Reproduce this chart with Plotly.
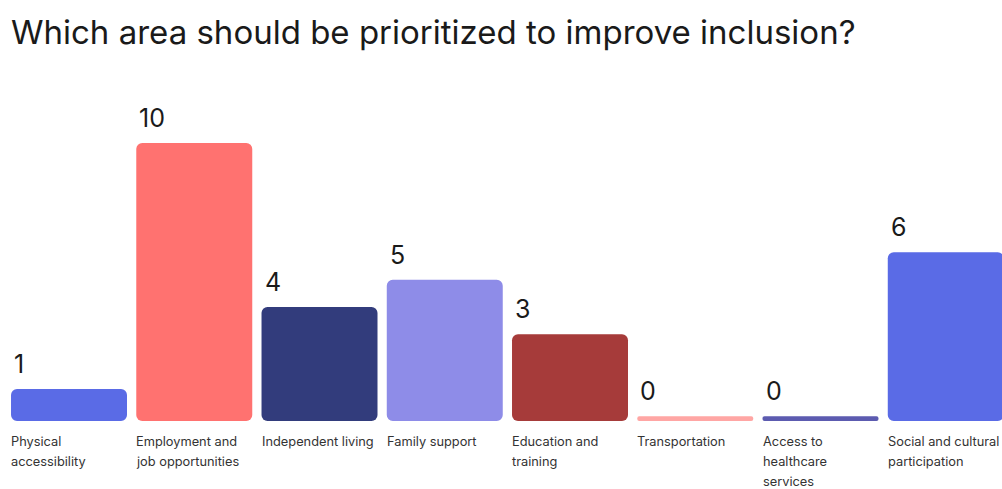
import plotly.graph_objects as go

categories = ["Physical<br>accessibility", "Employment and<br>job opportunities", "Independent living",
              "Family support", "Education and<br>training", "Transportation",
              "Access to<br>healthcare<br>services", "Social and cultural<br>participation"]
values = [1, 10, 4, 5, 3, 0, 0, 6]
colors = ["#5A6BE6", "#FF7270", "#323C7C", "#8E8CE8", "#A63B3A", "#FFA6A4", "#5C5BB0", "#5A6BE6"]

PAD = 0.172  # every bar starts slightly below zero, so zero values show as a thin strip
xs = list(range(len(values)))
BAR_W = 0.926
FONT = "Inter, Lato, sans-serif"

fig = go.Figure(go.Bar(
    x=xs, y=[v + PAD for v in values], base=-PAD, width=BAR_W,
    marker=dict(color=colors, line=dict(width=0)),
    hoverinfo="skip",
))

annotations = []
for i, (v, c) in enumerate(zip(values, categories)):
    annotations.append(dict(
        x=i - BAR_W / 2, y=v, xref="x", yref="y", text=str(v), showarrow=False,
        xanchor="left", yanchor="bottom", xshift=1, yshift=8,
        font=dict(size=25, color="#1a1a1a", family=FONT),
    ))
    for k, line in enumerate(c.split("<br>")):
        annotations.append(dict(
            x=i - BAR_W / 2, y=0, xref="x", yref="paper", text=line, showarrow=False,
            xanchor="left", yanchor="top", align="left", xshift=-2, yshift=-11 - 20 * k,
            font=dict(size=12.8, color="#333333", family=FONT),
        ))

fig.update_layout(
    width=1002, height=489,
    margin=dict(l=0, r=0, t=100, b=68),
    paper_bgcolor="white", plot_bgcolor="white",
    barcornerradius=6,
    showlegend=False,
    title=dict(text="Which area should be prioritized to improve inclusion?",
               x=0, xref="paper", xanchor="left", y=0.934, yanchor="middle", pad=dict(l=11),
               font=dict(size=33, color="#1a1a1a", family=FONT)),
    xaxis=dict(range=[-0.551, 7.449], visible=False, fixedrange=True),
    yaxis=dict(range=[-PAD, 11.573], visible=False, fixedrange=True),
    annotations=annotations,
)

fig.write_html("out.html")
